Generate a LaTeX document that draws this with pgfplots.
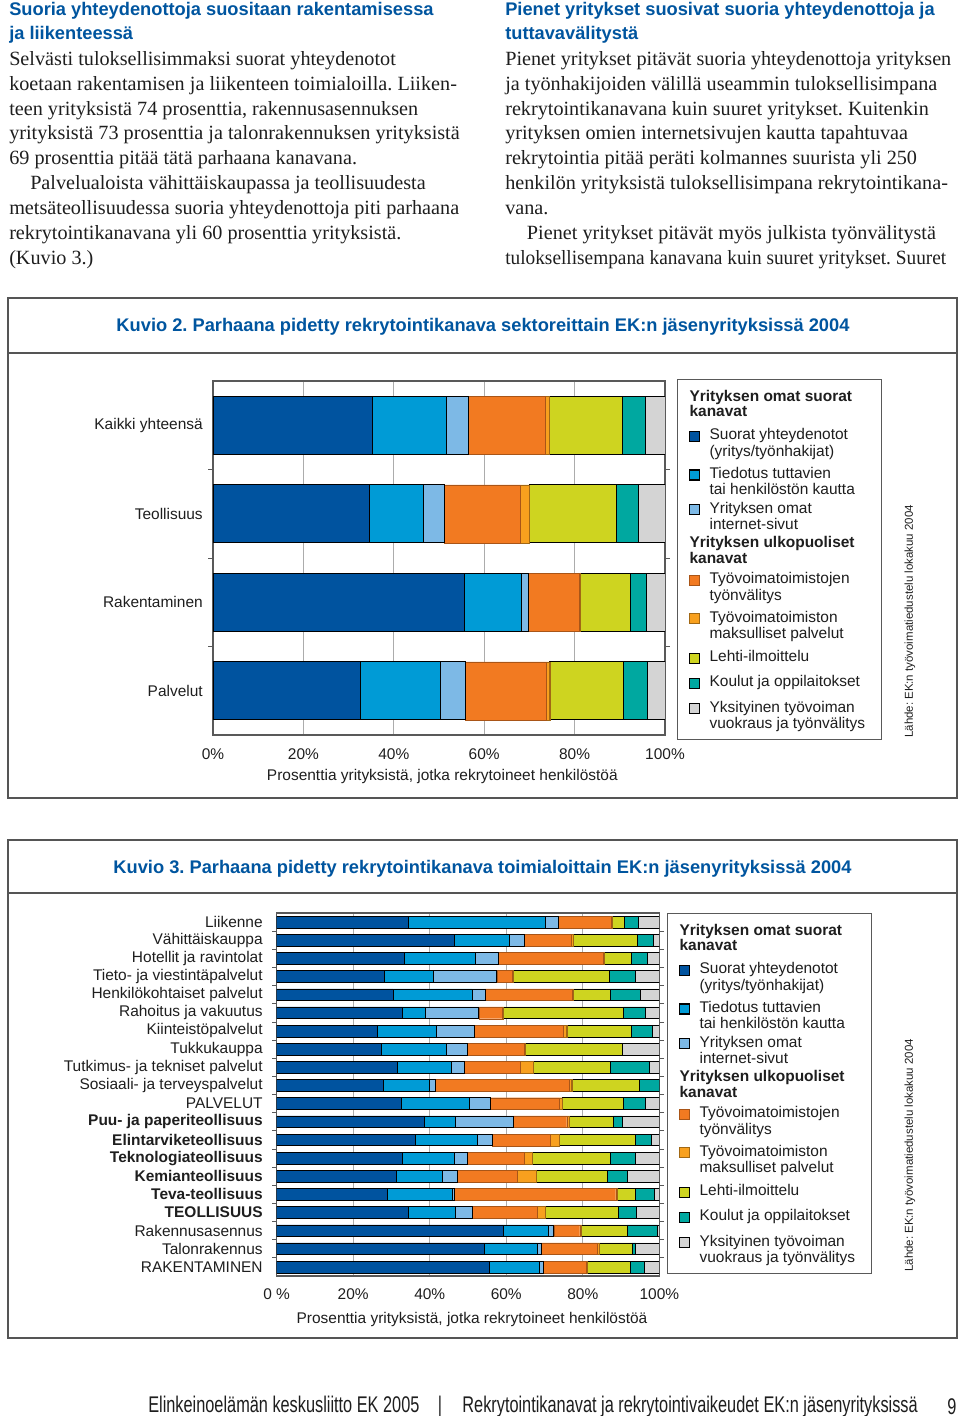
\documentclass[border=0pt]{standalone}
\usepackage{fontspec}
\setmainfont{Liberation Serif}
\setsansfont{Liberation Sans}
\newfontfamily\condfont[FakeStretch=0.72]{Liberation Sans}
\usepackage{graphicx}
\usepackage{pgfplots}
\usepackage{pgfplotstable}
\pgfplotsset{compat=1.18}
\frenchspacing

\definecolor{cA}{HTML}{00539F}
\definecolor{cB}{HTML}{009BD6}
\definecolor{cC}{HTML}{7DB9E6}
\definecolor{cD}{HTML}{F27A21}
\definecolor{cE}{HTML}{F8A01E}
\definecolor{cF}{HTML}{CED420}
\definecolor{cG}{HTML}{00A8A0}
\definecolor{cH}{HTML}{D4D4D4}
\definecolor{ttl}{HTML}{00559F}
\definecolor{txt}{HTML}{1E1E1E}
\definecolor{frm}{HTML}{555555}

\pgfplotstableread{
y a b c d e f g h
3 35.3 16.2 5.0 17.1 0.8 16.2 5.1 4.3
2 34.5 12.1 4.5 16.9 2.0 19.2 4.8 6.0
1 55.5 12.8 1.4 11.3 0.2 11.2 3.5 4.1
0 32.5 17.8 5.6 17.8 0.8 16.3 5.3 3.9
}\tabA

\pgfplotstableread{
y a b c d e f g h
19 34.4 35.8 3.4 13.8 0.4 3.0 3.7 5.5
18 46.3 14.6 3.8 12.2 0.5 16.8 4.3 1.5
17 33.4 18.6 5.8 27.5 0.3 7.1 4.1 3.2
16 28.1 12.9 16.5 4.1 0.2 25.1 6.7 6.4
15 30.4 20.7 3.3 22.9 0.1 9.7 7.9 5.0
14 32.8 6.1 13.9 6.1 0.2 31.5 5.8 3.6
13 26.3 15.5 9.8 23.3 0.9 16.9 5.5 1.8
12 27.4 16.8 5.5 15.0 0.2 25.4 0.1 9.6
11 31.5 14.2 3.2 14.7 3.5 20.0 10.2 2.7
10 27.9 11.9 1.6 35.0 0.7 17.6 5.3 0.0
9 32.5 17.9 5.3 18.1 0.8 16.1 5.5 3.8
8 38.7 8.0 15.2 13.9 0.7 11.5 2.3 9.7
7 36.3 16.2 3.8 15.3 2.3 19.8 4.1 2.2
6 32.7 13.6 3.5 14.8 2.3 20.4 6.3 6.4
5 31.3 11.9 4.0 15.6 5.0 18.7 5.1 8.4
4 29.0 16.8 0.5 42.3 0.5 4.6 4.9 1.4
3 34.4 12.2 4.5 17.0 2.0 19.1 4.8 6.0
2 59.2 11.7 1.5 6.8 0.3 12.1 7.9 0.5
1 54.2 14.0 1.0 14.6 0.4 8.7 0.9 6.2
0 55.5 13.0 1.2 11.1 0.4 11.1 3.8 3.9
}\tabB

% legend helpers: one legend row per text line
\newcommand{\lent}[2]{\addlegendentry[text height=#1, text depth=0pt]{#2}}
\newcommand{\lcont}[2]{\addlegendimage{empty legend}\addlegendentry[text height=#1, text depth=0pt]{#2}}
\newcommand{\lhdr}[2]{\addlegendimage{empty legend}\addlegendentry[text height=#1, text depth=0pt]{\hspace*{-15pt}\bfseries #2}}

\pgfplotsset{
  sqlegend/.style={legend image code/.code={\fill[##1] (0pt,-1.2pt) rectangle (7.5pt,6.3pt);}},
  kuvio/.style={
    xbar stacked, scale only axis, anchor=south west,
    xmin=0, xmax=100, xtick={0,20,40,60,80,100},
    xmajorgrids, grid style={gray!65, line width=0.8pt},
    axis line style={gray!70!black, line width=0.8pt},
    major tick length=0pt,
    extra y tick labels={},
    extra y tick style={major tick length=3.5pt, tick align=outside, tick style={draw=gray!70!black, line width=0.6pt}},
    tick label style={font=\sffamily\fontsize{11.6}{13}\selectfont, text=txt},
    label style={font=\sffamily\fontsize{11.6}{13}\selectfont, text=txt},
    xticklabel style={anchor=center},
    yticklabel style={anchor=east, inner sep=0pt},
    legend style={draw=gray!70!black, line width=0.8pt, fill=white,
      font=\sffamily\fontsize{11.6}{12}\selectfont, text=txt,
      cells={anchor=base west}, nodes={inner xsep=3.75pt, inner ysep=0pt},
      column sep=3.75pt, row sep=0pt, inner xsep=8.25pt, inner ysep=8pt, anchor=north west},
  },
}

\newcommand{\kuvioplots}[1]{%
  \lhdr{8.5pt}{Yrityksen omat suorat}
  \lhdr{11.5pt}{kanavat}
  \addplot[fill=cA, sqlegend] table[x=a,y=y]{#1};
  \lent{17.25pt}{Suorat yhteydenotot}
  \lcont{10.8pt}{(yritys/työnhakijat)}
  \addplot[fill=cB, sqlegend] table[x=b,y=y]{#1};
  \lent{16.5pt}{Tiedotus tuttavien}
  \lcont{10.8pt}{tai henkilöstön kautta}
  \addplot[fill=cC, sqlegend] table[x=c,y=y]{#1};
  \lent{13.75pt}{Yrityksen omat}
  \lcont{10.8pt}{internet-sivut}
  \lhdr{13.5pt}{Yrityksen ulkopuoliset}
  \lhdr{11.5pt}{kanavat}
  \addplot[fill=cD, draw=cD!70!black, line width=0.3pt, sqlegend] table[x=d,y=y]{#1};
  \lent{15.5pt}{Työvoimatoimistojen}
  \lcont{10.8pt}{työnvälitys}
  \addplot[fill=cE, draw=cE!65!black, line width=0.3pt, sqlegend] table[x=e,y=y]{#1};
  \lent{16.5pt}{Työvoimatoimiston}
  \lcont{10.8pt}{maksulliset palvelut}
  \addplot[fill=cF, sqlegend] table[x=f,y=y]{#1};
  \lent{17.5pt}{Lehti-ilmoittelu}
  \addplot[fill=cG, sqlegend] table[x=g,y=y]{#1};
  \lent{17.3pt}{Koulut ja oppilaitokset}
  \addplot[fill=cH, sqlegend] table[x=h,y=y]{#1};
  \lent{17.55pt}{Yksityinen työvoiman}
  \lcont{10.8pt}{vuokraus ja työnvälitys}
}

\begin{document}
\begin{tikzpicture}
\begin{scope}[x=0.75pt,y=-0.75pt]
\path[use as bounding box] (0,0) rectangle (960,1416);
% ---------- text columns ----------
\begin{scope}[every node/.style={anchor=base west, inner sep=0pt}]
\node[font=\sffamily\bfseries\fontsize{13.7}{16}\selectfont, text=ttl] at (9,15.7) {Suoria yhteydenottoja suositaan rakentamisessa};
\node[font=\sffamily\bfseries\fontsize{13.7}{16}\selectfont, text=ttl] at (9,39.3) {ja liikenteessä};
\node[font=\sffamily\bfseries\fontsize{13.7}{16}\selectfont, text=ttl] at (505,15.7) {Pienet yritykset suosivat suoria yhteydenottoja ja};
\node[font=\sffamily\bfseries\fontsize{13.7}{16}\selectfont, text=ttl] at (505,39.3) {tuttavavälitystä};
\begin{scope}[every node/.append style={font=\fontsize{15.15}{18.7}\selectfont, text=txt}]
\node at (9,65.3) {Selvästi tuloksellisimmaksi suorat yhteydenotot};
\node at (9,90.2) {koetaan rakentamisen ja liikenteen toimialoilla. Liiken-};
\node at (9,115.1) {teen yrityksistä 74 prosenttia, rakennusasennuksen};
\node at (9,140.0) {yrityksistä 73 prosenttia ja talonrakennuksen yrityksistä};
\node at (9,164.9) {69 prosenttia pitää tätä parhaana kanavana.};
\node at (30,189.8) {Palvelualoista vähittäiskaupassa ja teollisuudesta};
\node at (9,214.7) {metsäteollisuudessa suoria yhteydenottoja piti parhaana};
\node at (9,239.6) {rekrytointikanavana yli 60 prosenttia yrityksistä.};
\node at (9,264.5) {(Kuvio 3.)};
\node at (505,65.3) {Pienet yritykset pitävät suoria yhteydenottoja yrityksen};
\node at (505,90.2) {ja työnhakijoiden välillä useammin tuloksellisimpana};
\node at (505,115.1) {rekrytointikanavana kuin suuret yritykset. Kuitenkin};
\node at (505,140.0) {yrityksen omien internetsivujen kautta tapahtuvaa};
\node at (505,164.9) {rekrytointia pitää peräti kolmannes suurista yli 250};
\node at (505,189.8) {henkilön yrityksistä tuloksellisimpana rekrytointikana-};
\node at (505,214.7) {vana.};
\node at (526.7,239.6) {Pienet yritykset pitävät myös julkista työnvälitystä};
\node at (505,264.5) {\resizebox{330.75pt}{\height}{tuloksellisempana kanavana kuin suuret yritykset. Suuret}};
\end{scope}
\end{scope}
% ---------- boxes ----------
\draw[frm, line width=1pt] (8,298) rectangle (957,798);
\draw[frm, line width=1pt] (8,353) -- (957,353);
\draw[frm, line width=1pt] (8,840) rectangle (957,1338);
\draw[frm, line width=1pt] (8,893) -- (957,893);
\node[anchor=base, inner sep=0pt, font=\sffamily\bfseries\fontsize{13.7}{16}\selectfont, text=ttl] at (483,331.7) {Kuvio 2. Parhaana pidetty rekrytointikanava sektoreittain EK:n jäsenyrityksissä 2004};
\node[anchor=base, inner sep=0pt, font=\sffamily\bfseries\fontsize{13.7}{16}\selectfont, text=ttl] at (482.5,873) {Kuvio 3. Parhaana pidetty rekrytointikanava toimialoittain EK:n jäsenyrityksissä 2004};
% source notes
\node[rotate=90, anchor=west, inner sep=0pt, font=\sffamily\fontsize{8.6}{10}\selectfont, text=txt] at (910,738) {Lähde: EK:n työvoimatiedustelu lokakuu 2004};
\node[rotate=90, anchor=west, inner sep=0pt, font=\sffamily\fontsize{8.6}{10}\selectfont, text=txt] at (910,1272) {Lähde: EK:n työvoimatiedustelu lokakuu 2004};
% footer
\node[anchor=base west, inner sep=0pt, font=\condfont\fontsize{17}{20}\selectfont, text=txt] at (148,1412) {Elinkeinoelämän keskusliitto EK 2005};
\node[anchor=base, inner sep=0pt, font=\condfont\fontsize{17}{20}\selectfont, text=txt] at (440,1412) {|};
\node[anchor=base east, inner sep=0pt, font=\condfont\fontsize{17}{20}\selectfont, text=txt] at (918,1412) {Rekrytointikanavat ja rekrytointivaikeudet EK:n jäsenyrityksissä};
\node[anchor=base, inner sep=0pt, font=\condfont\fontsize{17}{20}\selectfont, text=txt] at (952,1414) {9};
\end{scope}

% ---------- Kuvio 2 ----------
\begin{axis}[kuvio,
  at={(159.75pt,-551.25pt)}, width=339pt, height=265.5pt,
  ymin=-0.5, ymax=3.5, ytick={0,1,2,3},
  extra y ticks={0.5,1.5,2.5},
  yticklabels={Palvelut, Rakentaminen, Teollisuus, Kaikki yhteensä},
  yticklabel style={xshift=-7.5pt},
  bar width=43.5pt,
  xticklabels={0\%,20\%,40\%,60\%,80\%,100\%},
  xticklabel style={yshift=-14.25pt},
  xlabel={Prosenttia yrityksistä, jotka rekrytoineet henkilöstöä},
  xlabel style={at={(axis description cs:0.5,0)}, anchor=center, yshift=-30.75pt, xshift=2.5pt},
  legend style={at={(1.0265,1.0056)}},
]
\kuvioplots{\tabA}
\end{axis}

% ---------- Kuvio 3 ----------
\begin{axis}[kuvio,
  at={(207.5pt,-957pt)}, width=287pt, height=272.25pt,
  ymin=-0.5, ymax=19.5, ytick={0,1,...,19},
  extra y ticks={0.5,1.5,...,18.5},
  yticklabels={RAKENTAMINEN, Talonrakennus, Rakennusasennus, \textbf{TEOLLISUUS}, \textbf{Teva-teollisuus},
    \textbf{Kemianteollisuus}, \textbf{Teknologiateollisuus}, \textbf{Elintarviketeollisuus},
    \textbf{Puu- ja paperiteollisuus}, PALVELUT, Sosiaali- ja terveyspalvelut,
    Tutkimus- ja tekniset palvelut, Tukkukauppa, Kiinteistöpalvelut, Rahoitus ja vakuutus,
    Henkilökohtaiset palvelut, Tieto- ja viestintäpalvelut, Hotellit ja ravintolat,
    Vähittäiskauppa, Liikenne},
  yticklabel style={xshift=-10.3pt},
  bar width=8.8pt,
  xticklabels={0 \%,20\%,40\%,60\%,80\%,100\%},
  xticklabel style={yshift=-13.5pt},
  xlabel={Prosenttia yrityksistä, jotka rekrytoineet henkilöstöä},
  xlabel style={at={(axis description cs:0.5,0)}, anchor=center, yshift=-32.25pt, xshift=3pt},
  legend style={at={(1.020,1.0)}},
]
\kuvioplots{\tabB}
\end{axis}
\end{tikzpicture}
\end{document}
